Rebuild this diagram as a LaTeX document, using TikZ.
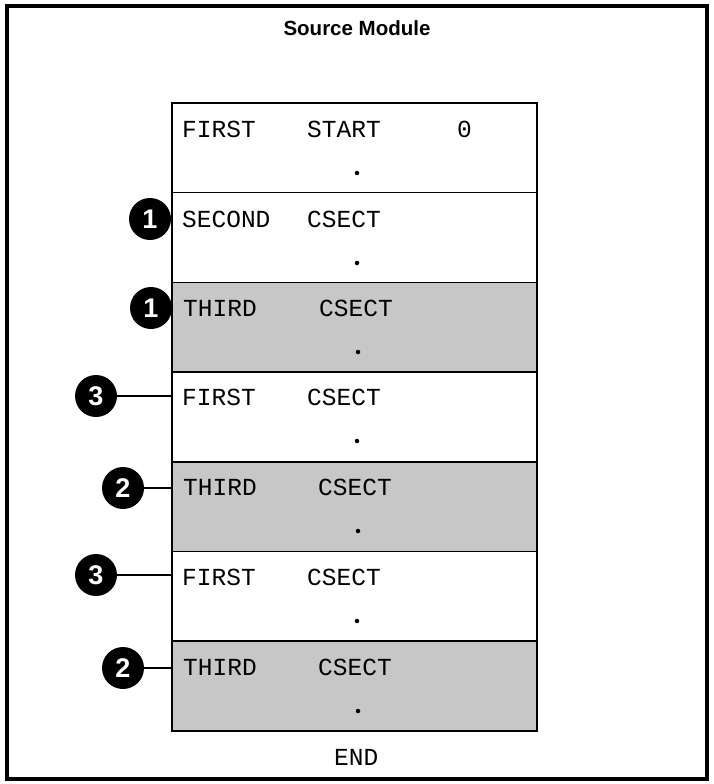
\documentclass[tikz,border=0pt]{standalone}
\usepackage{fontspec}
\setmainfont{Liberation Serif}
\newfontfamily\codefont{Liberation Mono}
\newfontfamily\headfont{Liberation Sans}
\usetikzlibrary{positioning}

\begin{document}
\begin{tikzpicture}[
  x=1pt, y=-1pt,
  rowbox/.style={
    draw,
    line width=1.5pt,
    minimum width=365pt,
    minimum height=89.7pt,
    inner sep=0pt,
    outer sep=0pt
  },
  shaded/.style={rowbox, fill=black!22},
  code/.style={anchor=west, inner sep=0pt, font=\codefont\fontsize{24.5}{24.5}\selectfont},
  dotmark/.style={circle, fill=black, minimum size=4.5pt, inner sep=0pt},
  numdot/.style={
    circle,
    fill=black,
    text=white,
    minimum size=42pt,
    inner sep=0pt,
    font=\headfont\bfseries\fontsize{27}{27}\selectfont
  },
  edge/.style={line width=1.4pt}
]
\useasboundingbox (0,0) rectangle (713,784);

% outer frame
\draw[line width=4.5pt] (7,6) rectangle (707,779);
\node[font=\headfont\bfseries\fontsize{20.5}{20.5}\selectfont] (title) at (357,28) {Source Module};

% rows of the module
\node[rowbox] (r1) at (354.5,147.85) {};
\node[rowbox] (r2) at (354.5,237.55) {};
\node[shaded] (r3) at (354.5,327.25) {};
\node[rowbox] (r4) at (354.5,416.95) {};
\node[shaded] (r5) at (354.5,506.65) {};
\node[rowbox] (r6) at (354.5,596.35) {};
\node[shaded] (r7) at (354.5,686.05) {};

\node[code] (l1) at (182,129) {FIRST};
\node[code] (o1) at (307,129) {START};
\node[code] (v1) at (457,129) {0};
\node[dotmark] (d1) at (357,173) {};

\node[code] (l2) at (182,219) {SECOND};
\node[code] (o2) at (307,219) {CSECT};
\node[dotmark] (d2) at (357,263) {};

\node[code] (l3) at (183,308) {THIRD};
\node[code] (o3) at (319,308) {CSECT};
\node[dotmark] (d3) at (358,352) {};

\node[code] (l4) at (182,397) {FIRST};
\node[code] (o4) at (307,397) {CSECT};
\node[dotmark] (d4) at (357,441) {};

\node[code] (l5) at (183,487) {THIRD};
\node[code] (o5) at (318,487) {CSECT};
\node[dotmark] (d5) at (358,531) {};

\node[code] (l6) at (182,577) {FIRST};
\node[code] (o6) at (307,577) {CSECT};
\node[dotmark] (d6) at (357,621) {};

\node[code] (l7) at (183,667) {THIRD};
\node[code] (o7) at (318,667) {CSECT};
\node[dotmark] (d7) at (358,711) {};

\node[code] (end) at (334,757) {END};

% numbered markers
\node[numdot] (m1a) at (150,219) {1};
\node[numdot] (m1b) at (151,308) {1};
\node[numdot] (m3a) at (96,396) {3};
\node[numdot] (m2a) at (123,488) {2};
\node[numdot] (m3b) at (96,575) {3};
\node[numdot] (m2b) at (123,668) {2};

\draw[edge] (m3a) -- (m3a -| r4.west);
\draw[edge] (m2a) -- (m2a -| r5.west);
\draw[edge] (m3b) -- (m3b -| r6.west);
\draw[edge] (m2b) -- (m2b -| r7.west);

\end{tikzpicture}
\end{document}
